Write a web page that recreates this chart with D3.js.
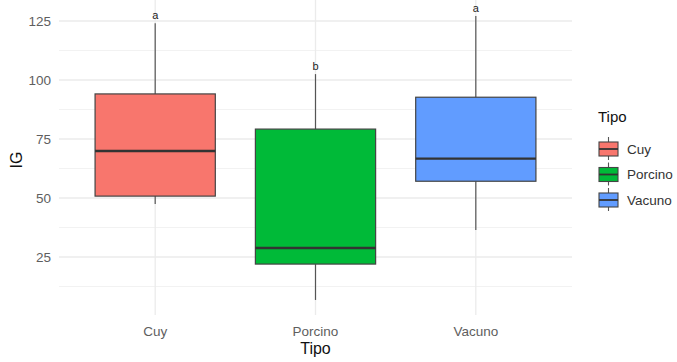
<!DOCTYPE html>
<html>
<head>
<meta charset="utf-8">
<script src="https://cdn.jsdelivr.net/npm/d3@7"></script>
<style>
  html, body { margin: 0; padding: 0; background: #ffffff; }
  svg { display: block; font-family: "Liberation Sans", Arial, sans-serif; }
</style>
</head>
<body>
<svg id="chart" width="677" height="362"></svg>
<script>
// Groups and their five-number summaries of IG
const tipos = ["Cuy", "Porcino", "Vacuno"];
const whiskerLow = [47.5, 6.8, 36.4];
const q1 = [50.8, 22.0, 57.1];
const medianVals = [69.9, 28.8, 66.7];
const q3 = [94.1, 79.2, 92.7];
const whiskerHigh = [124.0, 102.5, 127.1];
// Significance letters placed above each box
const letras = ["a", "b", "a"];
const yTicks = [25, 50, 75, 100, 125];
const yMinor = [12.5, 37.5, 62.5, 87.5, 112.5];
const colores = ["#F8766D", "#00BA38", "#619CFF"];

const svg = d3.select("#chart");
const panel = { left: 59, right: 572, top: -7, bottom: 315 };

const x = d3.scaleBand()
  .domain(tipos)
  .range([panel.left, panel.right])
  .paddingOuter(0.1)
  .paddingInner(0);
const boxW = x.bandwidth() * 0.75;
const cx = d => x(d) + x.bandwidth() / 2;

const y = d3.scaleLinear().domain([0, 125]).range([316, 21]);

const grid = svg.append("g");
grid.selectAll("line.minor").data(yMinor).join("line")
  .attr("x1", panel.left).attr("x2", panel.right)
  .attr("y1", d => y(d)).attr("y2", d => y(d))
  .attr("stroke", "#f2f2f2").attr("stroke-width", 1);
grid.selectAll("line.major").data(yTicks).join("line")
  .attr("x1", panel.left).attr("x2", panel.right)
  .attr("y1", d => y(d)).attr("y2", d => y(d))
  .attr("stroke", "#ebebeb").attr("stroke-width", 1.3);
grid.selectAll("line.vx").data(tipos).join("line")
  .attr("x1", d => cx(d)).attr("x2", d => cx(d))
  .attr("y1", panel.top).attr("y2", panel.bottom)
  .attr("stroke", "#ebebeb").attr("stroke-width", 1.3);

// Y axis (text only, minimal theme)
const yAxis = d3.axisLeft(y).tickValues(yTicks).tickSize(0).tickPadding(0);
const yg = svg.append("g").attr("transform", `translate(${panel.left - 8},0)`).call(yAxis);
yg.select(".domain").remove();
yg.selectAll("text").attr("fill", "#5e5e5e").style("font-size", "13.5px")
  .attr("font-family", "Liberation Sans, Arial, sans-serif");

// X axis
const xAxis = d3.axisBottom(x).tickSize(0).tickPadding(0);
const xg = svg.append("g").attr("transform", `translate(0,${panel.bottom + 11})`).call(xAxis);
xg.select(".domain").remove();
xg.selectAll("text").attr("fill", "#5e5e5e").style("font-size", "13.5px")
  .attr("font-family", "Liberation Sans, Arial, sans-serif");

// Boxes
const data = tipos.map((t, i) => ({
  t, lo: whiskerLow[i], q1: q1[i], med: medianVals[i], q3: q3[i], hi: whiskerHigh[i],
  col: colores[i], letra: letras[i]
}));

const boxes = svg.append("g").selectAll("g").data(data).join("g");
boxes.append("line")
  .attr("x1", d => cx(d.t)).attr("x2", d => cx(d.t))
  .attr("y1", d => y(d.hi)).attr("y2", d => y(d.q3))
  .attr("stroke", "#555").attr("stroke-width", 1.2);
boxes.append("line")
  .attr("x1", d => cx(d.t)).attr("x2", d => cx(d.t))
  .attr("y1", d => y(d.q1)).attr("y2", d => y(d.lo))
  .attr("stroke", "#555").attr("stroke-width", 1.2);
boxes.append("rect")
  .attr("x", d => cx(d.t) - boxW / 2).attr("width", boxW)
  .attr("y", d => y(d.q3)).attr("height", d => y(d.q1) - y(d.q3))
  .attr("fill", d => d.col).attr("stroke", "#444").attr("stroke-width", 1.2);
boxes.append("line")
  .attr("x1", d => cx(d.t) - boxW / 2).attr("x2", d => cx(d.t) + boxW / 2)
  .attr("y1", d => y(d.med)).attr("y2", d => y(d.med))
  .attr("stroke", "#333").attr("stroke-width", 2.4);
boxes.append("text")
  .attr("x", d => cx(d.t)).attr("y", d => y(d.hi) - 8)
  .attr("dy", "0.35em").attr("text-anchor", "middle")
  .attr("fill", "#222").style("font-size", "11px")
  .text(d => d.letra);

// Axis titles
svg.append("text").attr("x", cx("Porcino")).attr("y", 354)
  .attr("text-anchor", "middle").attr("fill", "#111").style("font-size", "16px").text("Tipo");
svg.append("text").attr("transform", "translate(22,160) rotate(-90)")
  .attr("text-anchor", "middle").attr("fill", "#111").style("font-size", "16px").text("IG");

// Legend
const leg = svg.append("g");
leg.append("text").attr("x", 598).attr("y", 122).attr("fill", "#111")
  .style("font-size", "15px").text("Tipo");
const keyY = i => 149 + i * 25.5;
const items = leg.selectAll("g.item").data(data).join("g")
  .attr("transform", (d, i) => `translate(599,${keyY(i)})`);
items.append("line").attr("x1", 9.5).attr("x2", 9.5).attr("y1", -12).attr("y2", 11)
  .attr("stroke", "#555").attr("stroke-width", 1.1);
items.append("rect").attr("x", 0).attr("y", -7).attr("width", 19).attr("height", 14)
  .attr("fill", d => d.col).attr("stroke", "#444").attr("stroke-width", 1.1);
items.append("line").attr("x1", 0).attr("x2", 19).attr("y1", 0).attr("y2", 0)
  .attr("stroke", "#333").attr("stroke-width", 1.8);
items.append("text").attr("x", 28).attr("y", 0).attr("dy", "0.35em")
  .attr("fill", "#333").style("font-size", "13.5px").text(d => d.t);
</script>
</body>
</html>
